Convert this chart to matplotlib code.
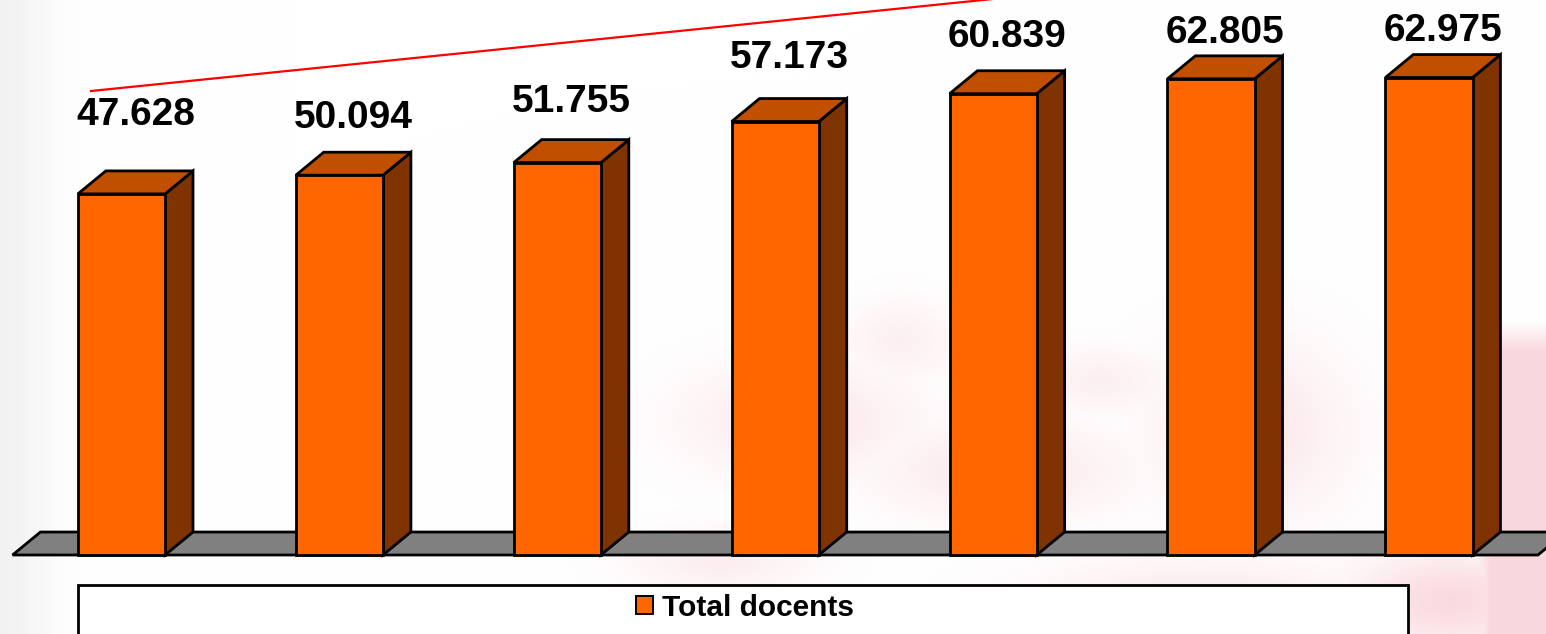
import matplotlib
matplotlib.use("Agg")
import matplotlib.pyplot as plt
import numpy as np
from matplotlib.patches import Polygon, Rectangle, Patch

plt.rcParams.update({
    "font.family": ["Liberation Sans", "DejaVu Sans"],
    "font.weight": "bold",
})

# data
years = ["1", "2", "3", "4", "5", "6", "7"]
total_docents = [47.628, 50.094, 51.755, 57.173, 60.839, 62.805, 62.975]
labels = ["47.628", "50.094", "51.755", "57.173", "60.839", "62.805", "62.975"]

# layout (value units) for the data labels, as placed in the original
label_y = [58.0, 57.7, 59.8, 65.6, 68.3, 68.9, 69.1]

FRONT = "#FF6600"
SIDE = "#7F3300"
TOP = "#C05000"
FLOOR = "#808080"

W = 0.40      # bar width (category units)
DX = 0.128    # depth offset, x
DY = 3.03     # depth offset, y (value units)
LW = 2.0

fig = plt.figure(figsize=(15.46, 6.34), dpi=100)

# soft watermark background
bg = fig.add_axes([0, 0, 1, 1], zorder=0)
bg.axis("off")
h, w = 634, 1546
yy, xx = np.mgrid[0:h, 0:w]
img = np.ones((h, w, 3))
pink = np.array([0.98, 0.85, 0.87])
mask = np.clip((xx - 1470) / 20, 0, 1) * np.clip((yy - 320) / 30, 0, 1)
for cx, cy, rx, ry, a in [(800, 420, 140, 70, 0.6), (1000, 470, 160, 60, 0.55),
                          (1250, 430, 120, 110, 0.6), (720, 560, 110, 40, 0.45),
                          (1200, 600, 200, 50, 0.55), (1450, 600, 120, 60, 0.95),
                          (900, 340, 70, 50, 0.4), (1100, 380, 90, 40, 0.4)]:
    d = ((xx - cx) / rx) ** 2 + ((yy - cy) / ry) ** 2
    mask = np.maximum(mask, a * np.exp(-d * 1.5))
gray = np.exp(-(xx / 50.0) ** 2) * 0.05
img = img * (1 - mask[..., None]) + pink * mask[..., None]
img = img - gray[..., None]
bg.imshow(np.clip(img, 0, 1), extent=[0, 1, 0, 1], aspect="auto")
bg.set_xlim(0, 1)
bg.set_ylim(0, 1)

ax = fig.add_axes([0, 0, 1, 1], zorder=1)
ax.patch.set_alpha(0)
ax.axis("off")
ax.set_xlim(-0.5576, 6.537)
ax.set_ylim(-10.42, 73.2)

x = np.arange(len(years))

# floor
x0, x1 = x[0] - 0.5, x[-1] + 0.5
ax.add_patch(Polygon([(x0, 0), (x1, 0), (x1 + DX, DY), (x0 + DX, DY)],
                     closed=True, facecolor=FLOOR, edgecolor="black", lw=LW,
                     joinstyle="miter", zorder=2))

# 3d bars
for xi, v in zip(x, total_docents):
    l, r = xi - W / 2, xi + W / 2
    ax.add_patch(Polygon([(r, 0), (r + DX, DY), (r + DX, v + DY), (r, v)],
                         closed=True, facecolor=SIDE, edgecolor="black", lw=LW,
                         joinstyle="miter", zorder=3))
    ax.add_patch(Polygon([(l, v), (r, v), (r + DX, v + DY), (l + DX, v + DY)],
                         closed=True, facecolor=TOP, edgecolor="black", lw=LW,
                         joinstyle="miter", zorder=3))
    ax.add_patch(Rectangle((l, 0), W, v, facecolor=FRONT, edgecolor="black",
                           lw=LW, joinstyle="miter", zorder=4))

for xi, ly, t in zip(x, label_y, labels):
    ax.text(xi + DX / 2, ly, t, ha="center", va="center", fontsize=28,
            fontweight="bold", color="black", zorder=5)

# decorative red line at the top
ax.plot([91 / 1546, 1100 / 1546], [1 - 91 / 634, 1 - (91 - 1009 * 91 / 892) / 634],
        color="red", lw=1.6, transform=ax.transAxes, zorder=5, clip_on=True)

# legend box
fig.patches.append(Rectangle((78 / 1546, -0.05), 1330 / 1546, 0.05 + 1 - 585 / 634,
                             transform=fig.transFigure, facecolor="white",
                             edgecolor="black", lw=2.0, zorder=6))
handle = Patch(facecolor=FRONT, edgecolor="black", lw=1.4)
leg = fig.legend([handle], ["Total docents"], loc="center",
                 bbox_to_anchor=(0.482, 1 - 608 / 634), frameon=False,
                 prop={"size": 21.5, "weight": "bold"}, handlelength=0.55,
                 handleheight=0.55, handletextpad=0.3)
leg.set_zorder(7)

fig.savefig("out.png", dpi=100)
